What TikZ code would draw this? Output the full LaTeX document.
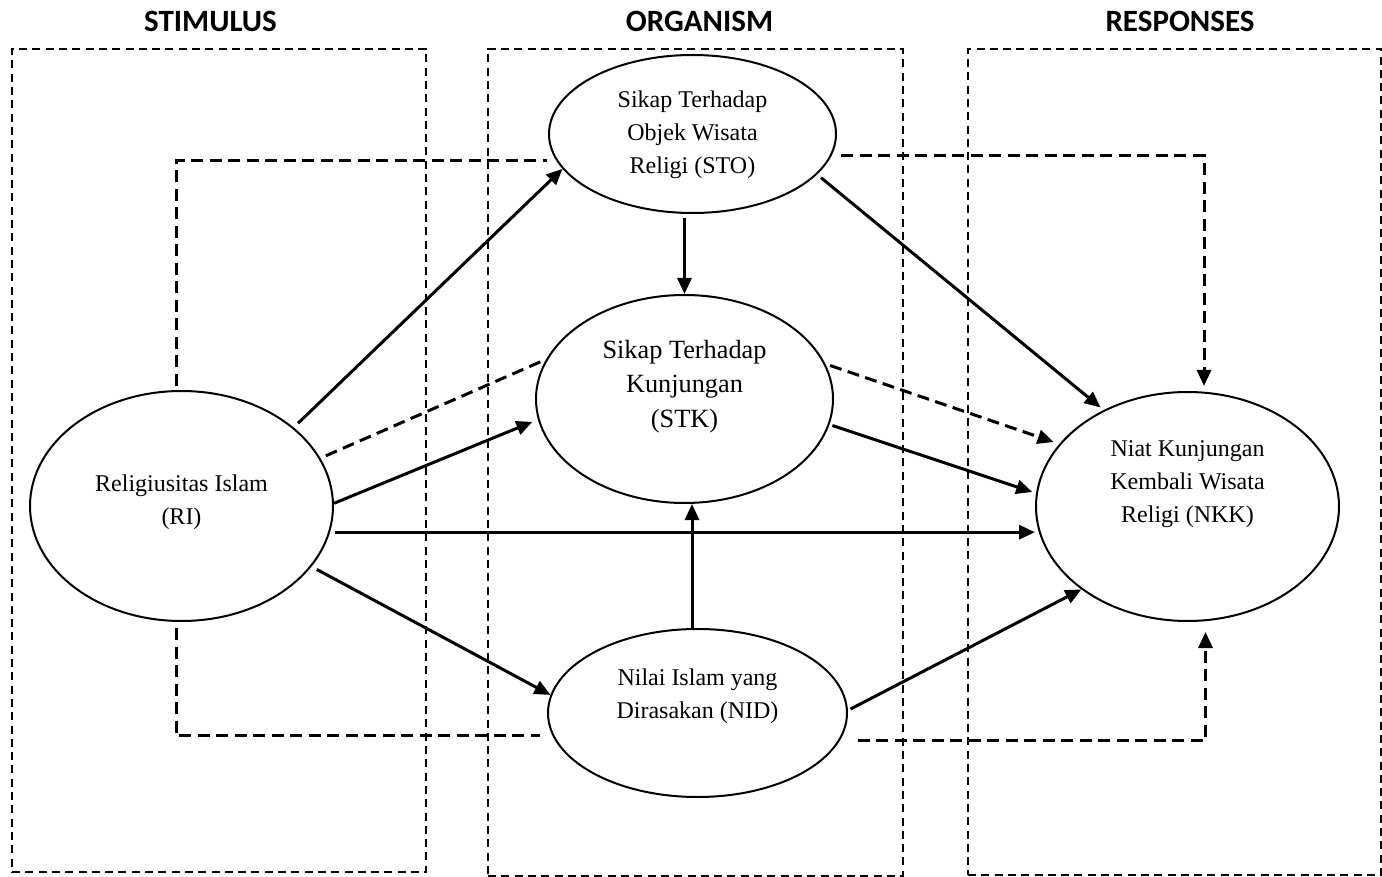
\documentclass[tikz,border=0pt]{standalone}
\usepackage{fontspec}
\setmainfont{Liberation Serif}
\newfontfamily\headfont{Carlito}
\usetikzlibrary{arrows.meta,shapes.geometric}
\begin{document}
\begin{tikzpicture}[x=1pt,y=-1pt,
  framebox/.style={draw, line width=1.8pt, dash pattern=on 8pt off 5.3pt,
    inner sep=0pt, outer sep=0pt},
  head/.style={font={\headfont\bfseries\fontsize{31}{31}\selectfont}, inner sep=0pt, anchor=base},
  construct/.style={draw, ellipse, line width=2pt, inner sep=0pt},
  txt/.style={font={\fontsize{24}{33}\selectfont}, align=center, inner sep=0pt},
  bigtxt/.style={font={\fontsize{26.3}{34.5}\selectfont}, align=center, inner sep=0pt},
  tip/.style={-{Triangle[length=16pt,width=14pt]}},
  link/.style={line width=3pt, tip},
  dlink/.style={line width=3pt, dash pattern=on 12pt off 6.5pt},
]
\useasboundingbox (0,0) rectangle (1382,877);

% S-O-R frames
\node[framebox, minimum width=414pt, minimum height=823pt] (stimbox) at (219,460.5) {};
\node[framebox, minimum width=415pt, minimum height=827pt] (orgbox) at (695.5,462.5) {};
\node[framebox, minimum width=413.2pt, minimum height=826pt] (respbox) at (1174.6,462) {};

% headings
\node[head] (hS) at (210.5,32) {STIMULUS};
\node[head] (hO) at (699.5,32) {ORGANISM};
\node[head] (hR) at (1180,32) {RESPONSES};

% constructs
\node[construct, minimum width=303pt, minimum height=230pt,
  label={[txt, yshift=3.4pt]center:Religiusitas Islam\\(RI)}] (RI) at (181.5,506) {};
\node[construct, minimum width=287pt, minimum height=158pt,
  label={[txt, yshift=-1.2pt]center:Sikap Terhadap\\Objek Wisata\\Religi (STO)}] (STO) at (692.5,134) {};
\node[construct, minimum width=297pt, minimum height=208pt,
  label={[bigtxt, yshift=12.6pt]center:Sikap Terhadap\\Kunjungan\\(STK)}] (STK) at (684.5,399) {};
\node[construct, minimum width=303pt, minimum height=229pt,
  label={[txt, yshift=22.6pt]center:Niat Kunjungan\\Kembali Wisata\\Religi (NKK)}] (NKK) at (1187.5,506.5) {};
\node[construct, minimum width=299pt, minimum height=168pt,
  label={[txt, yshift=17.1pt]center:Nilai Islam yang\\Dirasakan (NID)}] (NID) at (697.5,713) {};

% direct paths
\draw[link, shorten <=6pt] (RI.35.9) -- (STO.195.4);
\draw[link, shorten >=6pt] (RI.1.1) -- (STK.188.5);
\draw[link, shorten <=5pt] (RI.-10) -- (RI.-10 -| NKK.west);
\draw[link, shorten <=6pt] (RI.-25.6) -- (NID.173);
\draw[link, shorten <=4pt] (STK.north |- STO.south) -- (STK.north);
\draw[link] ([xshift=-5.5pt]NID.north) -- ([xshift=-5.5pt]NID.north |- STK.south);
\draw[link, shorten <=5pt, shorten >=4pt] (STO.-18.6) -- (NKK.131);
\draw[link, shorten <=3pt, shorten >=4pt] (STK.-10.8) -- (NKK.175.4);
\draw[link, shorten <=3pt] (NID.1.9) -- (NKK.218.2);

% mediated paths
\draw[dlink, shorten <=4pt, shorten >=9pt] ([xshift=-5.5pt]RI.north) |- (STO.191.8);
\draw[dlink, tip, shorten <=10pt, shorten >=5pt] (STO.-9.5) -| ([xshift=16.5pt]NKK.north);
\draw[dlink, shorten <=6pt, shorten >=5pt] (RI.19.2) -- (STK.164.8);
\draw[dlink, tip, shorten <=5pt, shorten >=6pt] (STK.14.8) -- (NKK.154.7);
\draw[dlink, shorten <=6pt, shorten >=13pt] ([xshift=-5.5pt]RI.south) |- (NID.189.9);
\draw[dlink, tip, shorten <=18pt, shorten >=10pt] (NID.-11.2) -| ([xshift=18pt]NKK.south);
\end{tikzpicture}
\end{document}
